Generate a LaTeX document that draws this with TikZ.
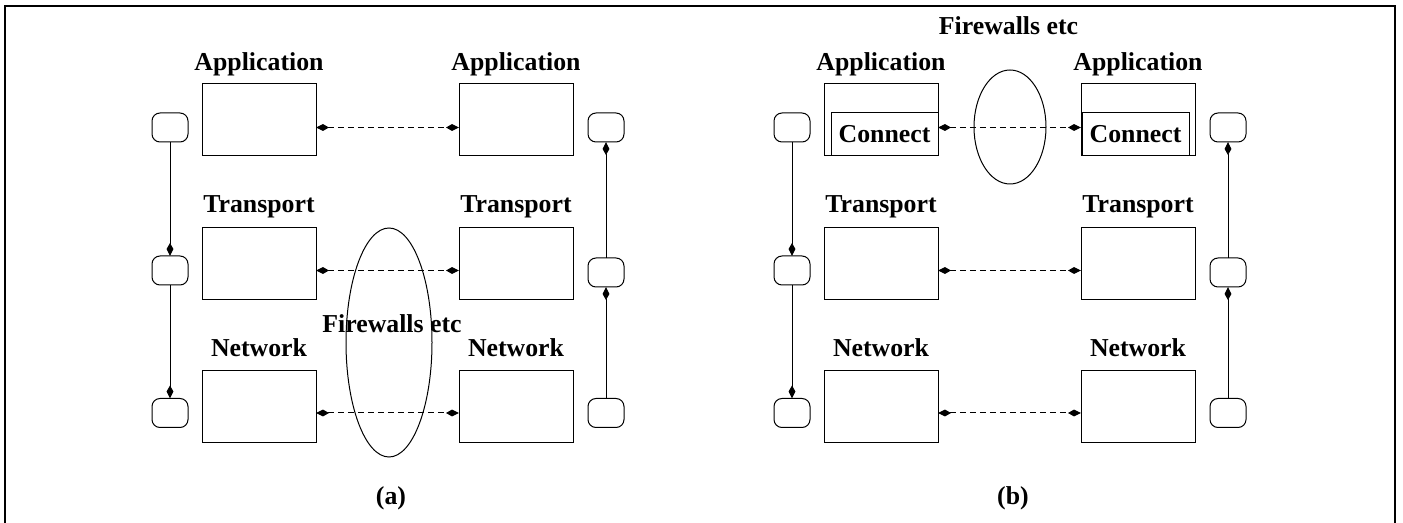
\documentclass[tikz,border=0pt]{standalone}
\usepackage{fontspec}
\setmainfont{Liberation Serif}
\usetikzlibrary{arrows.meta,shapes.geometric}
\tikzset{
  ktip/.tip={Kite[length=6.5pt,width=3.4pt,inset=3pt]},
  layer/.style={draw, line width=0.5pt, minimum width=57pt, minimum height=36pt, inner sep=0pt, outer sep=0pt},
  connbox/.style={draw, line width=0.5pt, minimum width=53.5pt, minimum height=21.5pt, inner sep=0pt, outer sep=0pt, font=\bfseries\fontsize{12.9}{15}\selectfont},
  hostbox/.style={draw, rounded corners=4pt, line width=0.5pt, minimum width=18pt, minimum height=14.5pt, inner sep=0pt, outer sep=0pt},
  lbl/.style={font=\bfseries\fontsize{12.9}{15}\selectfont, inner sep=0pt, anchor=base},
  wall/.style={draw, ellipse, line width=0.5pt, inner sep=0pt, outer sep=0pt},
  flow/.style={-ktip, line width=0.5pt},
  peer/.style={ktip-ktip, dash pattern=on 3pt off 2pt, line width=0.5pt},
  frame/.style={line width=1pt},
}
\newcommand\panelcore{%
  \node[layer] (A1) at (259,120) {};
  \node[layer] (A2) at (516,120) {};
  \node[layer] (T1) at (259,263.5) {};
  \node[layer] (T2) at (516,263.5) {};
  \node[layer] (N1) at (259,406.5) {};
  \node[layer] (N2) at (516,406.5) {};
  \node[lbl] (lA1) at (259,71) {Application};
  \node[lbl] (lA2) at (516,71) {Application};
  \node[lbl] (lT1) at (259,213) {Transport};
  \node[lbl] (lT2) at (516,213) {Transport};
  \node[lbl] (lN1) at (259,357) {Network};
  \node[lbl] (lN2) at (516,357) {Network};
  \node[hostbox] (h1) at (170,127.5) {};
  \node[hostbox] (h2) at (170,270.5) {};
  \node[hostbox] (h3) at (170,413) {};
  \node[hostbox] (g1) at (606,127.5) {};
  \node[hostbox] (g2) at (606,272.5) {};
  \node[hostbox] (g3) at (606,413) {};
  \coordinate (r1) at (0,127.5);
  \coordinate (r2) at (0,270.5);
  \coordinate (r3) at (0,413);
  \draw[flow] (h1) -- (h2);
  \draw[flow] (h2) -- (h3);
  \draw[flow] (g3) -- (g2);
  \draw[flow] (g2) -- (g1);
  \draw[peer] (A1.east |- r1) -- (A2.west |- r1);
  \draw[peer] (T1.east |- r2) -- (T2.west |- r2);
  \draw[peer] (N1.east |- r3) -- (N2.west |- r3);
}
\begin{document}
\begin{tikzpicture}[x=0.5pt, y=-0.5pt]
  \useasboundingbox (0,0) rectangle (1403,523);
  \draw[frame] (5,530) -- (5,6) -- (1394.5,6) -- (1394.5,530);
  % panel (a)
  \begin{scope}[name prefix=a-]
    \panelcore
    \node[wall, minimum width=43pt, minimum height=114.5pt] (fw) at (389,342.5) {};
    \node[lbl] (fwl) at (392,333) {Firewalls etc};
    \node[lbl] (cap) at (391,504) {(a)};
  \end{scope}
  % panel (b)
  \begin{scope}[xshift=311pt, name prefix=b-]
    \panelcore
    \node[connbox] (c1) at (262.5,134.5) {Connect};
    \node[connbox] (c2) at (513.5,134.5) {Connect};
    \node[wall, minimum width=36pt, minimum height=57pt] (fw) at (388,127) {};
    \node[lbl] (fwl) at (386.5,35) {Firewalls etc};
    \node[lbl] (cap) at (391,504) {(b)};
  \end{scope}
\end{tikzpicture}
\end{document}
